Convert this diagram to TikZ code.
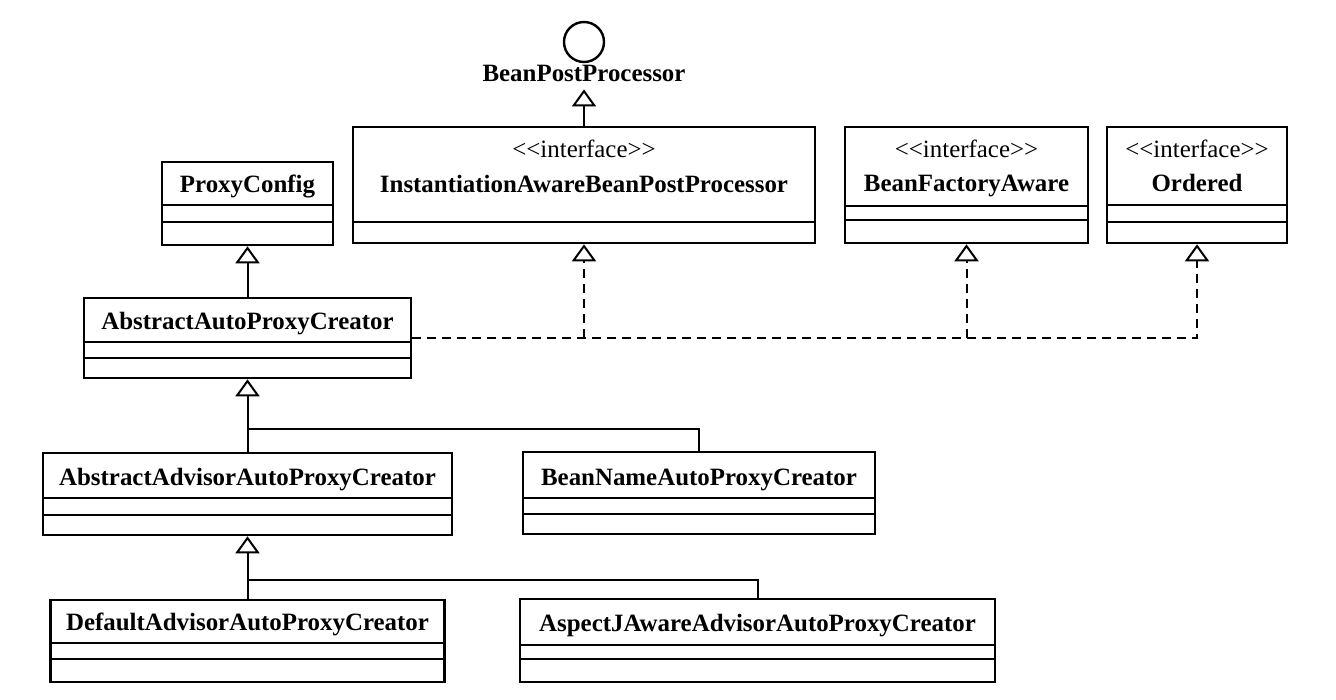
\documentclass[tikz,border=0pt]{standalone}
\usepackage{fontspec}
\setmainfont{Liberation Serif}
\usetikzlibrary{arrows.meta}
\begin{document}
\begin{tikzpicture}[x=1pt,y=-1pt,
  umlbox/.style={draw, line width=2.6pt, rectangle, inner sep=0pt},
  cname/.style={font=\fontsize{24.9}{28}\selectfont\bfseries, anchor=base, inner sep=0pt},
  stereo/.style={font=\fontsize{24.9}{28}\selectfont, anchor=base, inner sep=0pt},
  sepline/.style={line width=2pt},
  gen/.style={line width=2pt, -{Triangle[open, length=17pt, width=24pt, line width=2pt]}},
  realz/.style={gen, dash pattern=on 9pt off 6pt},
  plainln/.style={line width=2pt}]
\useasboundingbox (0,0) rectangle (1336,700);
\fill[white] (0,0) rectangle (1336,700);

% interface lollipop
\node[draw, circle, line width=2.4pt, minimum size=40pt, inner sep=0pt] (bppc) at (584,42) {};
\node[cname, inner sep=7pt] (bpp) at (584,82) {BeanPostProcessor};

% boxes
\node[umlbox, minimum width=171pt, minimum height=83pt] (pc) at (247.5,203.5) {};
\node[cname] (pcT) at (247.5,193) {ProxyConfig};
\draw[sepline] (pc.west |- 0,205) -- (pc.east |- 0,205);
\draw[sepline] (pc.west |- 0,222) -- (pc.east |- 0,222);

\node[umlbox, minimum width=462pt, minimum height=116pt] (iabpp) at (584,185) {};
\node[stereo] (iabppS) at (584,158) {<\kern0pt<interface>\kern0pt>};
\node[cname] (iabppT) at (584,193) {InstantiationAwareBeanPostProcessor};
\draw[sepline] (iabpp.west |- 0,222) -- (iabpp.east |- 0,222);

\node[umlbox, minimum width=243pt, minimum height=116pt] (bfa) at (966.5,185) {};
\node[stereo] (bfaS) at (966.5,158) {<\kern0pt<interface>\kern0pt>};
\node[cname] (bfaT) at (966.5,192) {BeanFactoryAware};
\draw[sepline] (bfa.west |- 0,206) -- (bfa.east |- 0,206);
\draw[sepline] (bfa.west |- 0,220) -- (bfa.east |- 0,220);

\node[umlbox, minimum width=180pt, minimum height=116pt] (ord) at (1197,185) {};
\node[stereo] (ordS) at (1197,158) {<\kern0pt<interface>\kern0pt>};
\node[cname] (ordT) at (1197,192) {Ordered};
\draw[sepline] (ord.west |- 0,205) -- (ord.east |- 0,205);
\draw[sepline] (ord.west |- 0,222) -- (ord.east |- 0,222);

\node[umlbox, minimum width=327pt, minimum height=80pt] (aapc) at (247.5,338) {};
\node[cname] (aapcT) at (247.5,330) {AbstractAutoProxyCreator};
\draw[sepline] (aapc.west |- 0,342) -- (aapc.east |- 0,342);
\draw[sepline] (aapc.west |- 0,358) -- (aapc.east |- 0,358);

\node[umlbox, minimum width=409pt, minimum height=82pt] (aaapc) at (247.5,494) {};
\node[cname] (aaapcT) at (247.5,485) {AbstractAdvisorAutoProxyCreator};
\draw[sepline] (aaapc.west |- 0,498) -- (aaapc.east |- 0,498);
\draw[sepline] (aaapc.west |- 0,515) -- (aaapc.east |- 0,515);

\node[umlbox, minimum width=352pt, minimum height=82pt] (bnapc) at (699,493) {};
\node[cname] (bnapcT) at (699,485) {BeanNameAutoProxyCreator};
\draw[sepline] (bnapc.west |- 0,498) -- (bnapc.east |- 0,498);
\draw[sepline] (bnapc.west |- 0,514) -- (bnapc.east |- 0,514);

\node[umlbox, minimum width=394pt, minimum height=82pt] (dapc) at (247.5,641) {};
\node[cname] (dapcT) at (247.5,630) {DefaultAdvisorAutoProxyCreator};
\draw[sepline] (dapc.west |- 0,643) -- (dapc.east |- 0,643);
\draw[sepline] (dapc.west |- 0,659) -- (dapc.east |- 0,659);

\node[umlbox, minimum width=475pt, minimum height=83pt] (ajapc) at (757.5,640.5) {};
\node[cname] (ajapcT) at (757.5,631) {AspectJAwareAdvisorAutoProxyCreator};
\draw[sepline] (ajapc.west |- 0,645) -- (ajapc.east |- 0,645);
\draw[sepline] (ajapc.west |- 0,659) -- (ajapc.east |- 0,659);

% generalization
\draw[gen] (iabpp.north) -- (bpp.south);
\draw[gen] (aapc.north) -- (pc.south);
\draw[gen] (aaapc.north) -- (aapc.south);
\draw[gen] (dapc.north) -- (aaapc.south);
\coordinate (j1) at (247.5,429);
\coordinate (j2) at (247.5,580);
\draw[plainln] (j1) -| (bnapc.north);
\draw[plainln] (j2) -| (ajapc.north);

% realization
\draw[realz] (aapc.east) -| (ord.south);
\draw[realz] (aapc.east -| iabpp.south) -- (iabpp.south);
\draw[realz] (aapc.east -| bfa.south) -- (bfa.south);
\end{tikzpicture}
\end{document}
